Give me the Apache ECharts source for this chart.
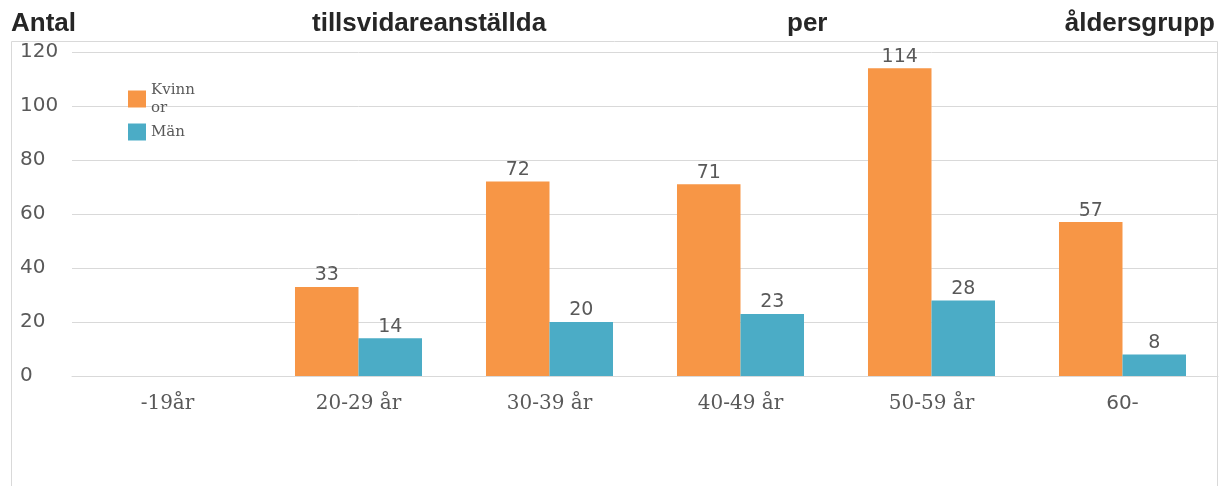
<!DOCTYPE html>
<html>
<head>
<meta charset="utf-8">
<script src="https://cdn.jsdelivr.net/npm/echarts@6/dist/echarts.min.js"></script>
<style>
html,body{margin:0;padding:0;background:#fff;}
#chart{width:1221px;height:486px;}
</style>
</head>
<body>
<div id="chart"></div>
<script>
var titleWords = ['Antal', 'tillsvidareanställda', 'per', 'åldersgrupp'];
var categories = ['-19år', '20-29 år', '30-39 år', '40-49 år', '50-59 år', '60-'];
var kvinnor = [null, 33, 72, 71, 114, 57];
var man = [null, 14, 20, 23, 28, 8];
var seriesNames = ['Kvinnor', 'Män'];
var yTicks = {min: 0, max: 120, interval: 20};

var chart = echarts.init(document.getElementById('chart'), null, {renderer: 'canvas'});
var titleStyle = {fontFamily: 'Liberation Sans', fontWeight: 'bold', fontSize: 26, color: '#262626'};
var titlePos = [{left: 11}, {left: 312}, {left: 787}, {right: 6}];
var titles = titleWords.map(function (w, i) {
  var t = {text: w, top: 11, padding: 0, textStyle: titleStyle};
  for (var k in titlePos[i]) t[k] = titlePos[i][k];
  return t;
});

var labelStyle = {show: true, position: 'top', distance: 2, fontFamily: 'DejaVu Sans', fontSize: 19, color: '#595959'};

chart.setOption({
  animation: false,
  title: titles,
  graphic: [{
    type: 'rect', z: -1, silent: true,
    shape: {x: 11.5, y: 41.5, width: 1206, height: 470},
    style: {fill: 'none', stroke: '#d9d9d9', lineWidth: 1}
  }],
  legend: {
    orient: 'vertical', left: 128, top: 81, itemGap: 6, itemWidth: 18, itemHeight: 17,
    icon: 'rect', padding: 0,
    data: seriesNames,
    formatter: function (n) { return n === 'Kvinnor' ? 'Kvinn\nor' : n; },
    textStyle: {fontFamily: 'DejaVu Serif', fontSize: 15, lineHeight: 18, color: '#595959'}
  },
  grid: {left: 72, right: 3, top: 52, bottom: 110, containLabel: false},
  xAxis: {
    type: 'category', data: categories,
    axisLine: {show: true, lineStyle: {color: '#d9d9d9', width: 1}},
    axisTick: {show: false},
    axisLabel: {
      margin: 18,
      formatter: function (v) { return /[a-zåäö]/i.test(v) ? '{s|' + v + '}' : '{n|' + v + '}'; },
      rich: {
        s: {fontFamily: 'DejaVu Serif', fontSize: 20, color: '#595959'},
        n: {fontFamily: 'DejaVu Sans', fontSize: 20, color: '#595959'}
      }
    }
  },
  yAxis: {
    type: 'value', min: yTicks.min, max: yTicks.max, interval: yTicks.interval,
    axisLine: {show: false}, axisTick: {show: false},
    splitLine: {lineStyle: {color: '#d9d9d9', width: 1}},
    axisLabel: {align: 'left', margin: 52, fontFamily: 'DejaVu Sans', fontSize: 20, color: '#595959'}
  },
  series: [
    {name: seriesNames[0], type: 'bar', data: kvinnor, barGap: '0%', barCategoryGap: '33.5%',
     itemStyle: {color: '#F79646'}, label: labelStyle},
    {name: seriesNames[1], type: 'bar', data: man, barGap: '0%', barCategoryGap: '33.5%',
     itemStyle: {color: '#4BACC6'}, label: labelStyle}
  ]
});
</script>
</body>
</html>
